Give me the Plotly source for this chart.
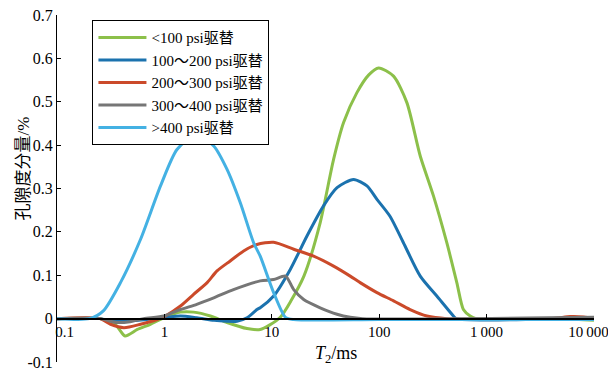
import plotly.graph_objects as go

# ---- data (T2 in ms, porosity component in %) ----
t_lt100 = [0.1, 0.25, 0.3, 0.36, 0.43, 0.56, 0.74, 0.99, 1.41, 1.87, 2.68, 3.83, 5.88, 7.8, 9.5, 12,
           15, 19.9, 28.2, 37.6, 46.6, 62, 80, 98.7, 136, 181, 241, 320, 426, 528, 608, 703, 800, 5000, 10000]
v_lt100 = [0, 0, -0.005, -0.017, -0.040, -0.025, -0.013, 0.002, 0.015, 0.015, 0.006, -0.009, -0.023, -0.025, -0.015, 0.003,
           0.04, 0.098, 0.221, 0.367, 0.452, 0.521, 0.562, 0.578, 0.559, 0.498, 0.375, 0.283, 0.175, 0.083, 0.021, 0.006, 0, 0, -0.004]

t_100_200 = [0.1, 0.25, 0.33, 0.5, 0.99, 1.41, 2.0, 2.9, 3.8, 4.74, 5.88, 7.28, 7.8, 10.4, 14.9, 21.2, 30.3, 40.5,
             57.7, 76.9, 95.3, 126, 168, 241, 344, 491, 520, 10000]
v_100_200 = [0, 0, -0.005, -0.005, 0.002, 0.006, 0.002, -0.004, -0.006, -0.006, 0.002, 0.021, 0.025, 0.052, 0.114, 0.19, 0.26, 0.302,
             0.321, 0.306, 0.275, 0.236, 0.175, 0.098, 0.052, 0.006, 0, 0.002]

t_200_300 = [0.1, 0.25, 0.315, 0.42, 0.6, 0.855, 1.02, 1.41, 1.87, 2.5, 3.09, 4.1, 5.47, 7.28, 10.4, 16, 24.5, 37.6,
             53.7, 66.5, 95.3, 136, 194, 278, 426, 4000, 6000, 8000, 10000]
v_200_300 = [0, 0, -0.013, -0.021, -0.013, -0.002, 0.006, 0.029, 0.056, 0.083, 0.11, 0.133, 0.156, 0.171, 0.176, 0.16, 0.144, 0.121,
             0.098, 0.083, 0.06, 0.041, 0.021, 0.006, 0, 0, 0.005, 0.004, 0]

t_300_400 = [0.1, 0.25, 0.36, 0.48, 0.64, 0.99, 1.41, 2.0, 2.88, 4.4, 7.8, 10.4, 13.4, 16, 19.8, 28.2, 40.5, 53.7, 70, 10000]
v_300_400 = [0, 0, -0.009, -0.007, 0, 0.006, 0.021, 0.033, 0.048, 0.067, 0.087, 0.09, 0.098, 0.067, 0.044, 0.025, 0.01, 0.003, 0, 0.003]

t_gt400 = [0.1, 0.2, 0.27, 0.39, 0.6, 0.92, 1.31, 1.99, 2.88, 3.83, 5.09, 6.77, 7.8, 10.4, 13.4, 16, 100, 1000, 10000]
v_gt400 = [0, 0, 0.018, 0.083, 0.183, 0.306, 0.39, 0.425, 0.398, 0.344, 0.267, 0.175, 0.144, 0.06, 0.003, -0.002, -0.002, -0.002, -0.002]

series_names = ["<100 psi驱替", "100～200 psi驱替", "200～300 psi驱替", "300～400 psi驱替", ">400 psi驱替"]
series_t = [t_lt100, t_100_200, t_200_300, t_300_400, t_gt400]
series_v = [v_lt100, v_100_200, v_200_300, v_300_400, v_gt400]
colors = ["#8cc04a", "#1b72ae", "#cb4a2a", "#767676", "#44b1e3"]

NB = "\u00a0"
x_tickvals = [0.1, 1, 10, 100, 1000, 10000]
x_ticktext = [NB * 4 + "0.1", "1", "10", "100", "1\u2009000", "10\u2009000" + NB * 3]
y_tickvals = [-0.1, 0, 0.1, 0.2, 0.3, 0.4, 0.5, 0.6, 0.7]
y_ticktext = ["-0.1", "0", "0.1", "0.2", "0.3", "0.4", "0.5", "0.6", "0.7"]
x_title = "<i>T</i><sub>2</sub>/ms"
y_title = "孔隙度分量/%"

FONT = "Liberation Serif, Times New Roman, Noto Sans CJK SC, serif"

fig = go.Figure()
for name, t, v, c in zip(series_names, series_t, series_v, colors):
    fig.add_trace(go.Scatter(x=t, y=v, name=name, mode="lines",
                             line=dict(color=c, width=3, shape="spline", smoothing=0.7)))

# page body has an 8px margin; figure size/margins compensate for it
fig.update_layout(
    width=608, height=364,
    margin=dict(l=49, r=22, t=7, b=10, autoexpand=False),
    paper_bgcolor="white", plot_bgcolor="white",
    font=dict(family=FONT, size=16, color="black"),
    showlegend=True,
    legend=dict(x=0.066, y=0.985, xanchor="left", yanchor="top",
                bordercolor="black", borderwidth=1, bgcolor="white",
                font=dict(family=FONT, size=15), itemwidth=48, tracegroupgap=0),
    xaxis=dict(type="log", range=[-1, 4], anchor="free", position=0.125,
               showline=True, linecolor="black", linewidth=1.5,
               ticks="inside", ticklen=4, tickcolor="black",
               tickmode="array", tickvals=x_tickvals, ticktext=x_ticktext,
               tickfont=dict(size=15), ticklabeloverflow="allow",
               showgrid=False, zeroline=False, automargin=False),
    yaxis=dict(range=[-0.1, 0.7], showline=True, linecolor="black", linewidth=1,
               ticks="inside", ticklen=4, tickcolor="black",
               tickmode="array", tickvals=y_tickvals, ticktext=y_ticktext,
               tickfont=dict(size=16), ticklabeloverflow="allow",
               showgrid=False, zeroline=False, automargin=False),
    annotations=[
        dict(text=x_title, xref="paper", yref="paper", x=0.5196, y=0.0202,
             xanchor="center", yanchor="middle", showarrow=False, font=dict(size=18)),
        dict(text=y_title, xref="paper", yref="paper", x=-0.062, y=0.557,
             xanchor="center", yanchor="middle", showarrow=False, textangle=-90,
             font=dict(size=17)),
    ],
)

fig.write_html("out.html")
